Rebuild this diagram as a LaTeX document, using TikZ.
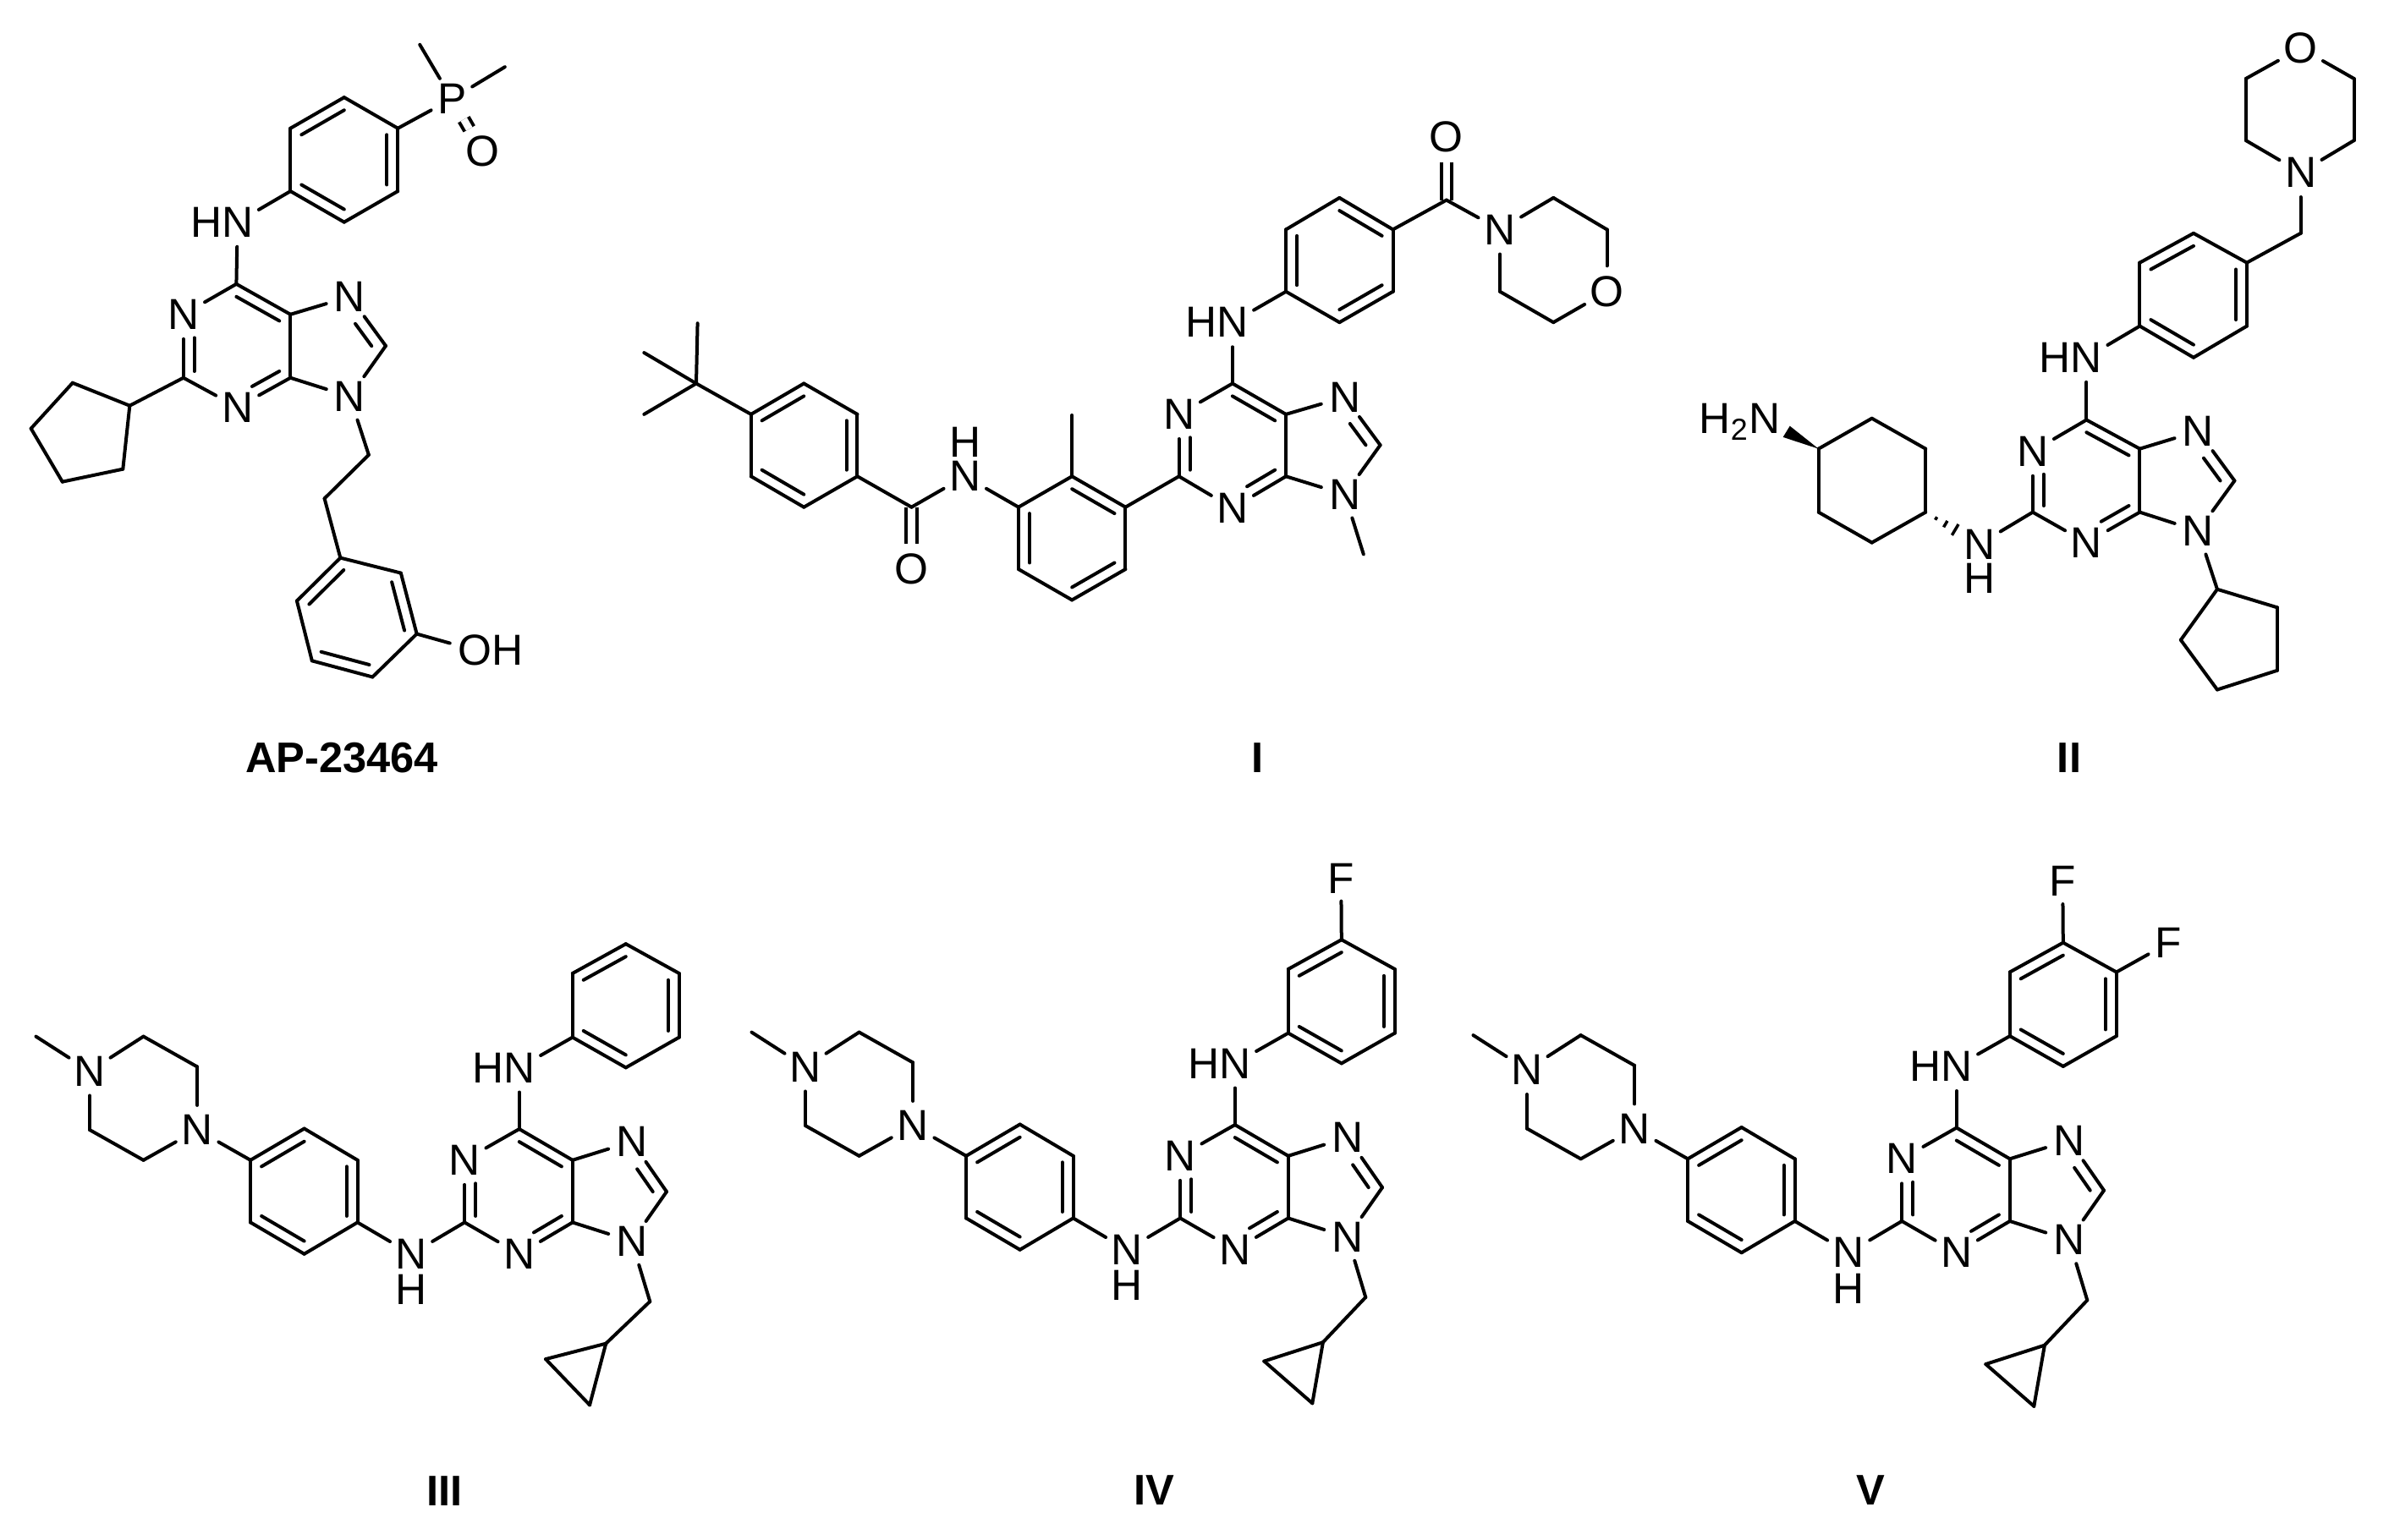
\documentclass[tikz,border=0pt]{standalone}
\usepackage{fontspec}
\setmainfont{Liberation Sans}
\usetikzlibrary{calc}
\tikzset{
  bond/.style={line width=0.04cm,line cap=round,black},
  dbond/.style={line width=0.04cm,line cap=butt,double=white,double distance=0.085cm,black},
  atom/.style={circle,inner sep=0.02cm,font=\fontsize{14.6pt}{16pt}\selectfont,text=black},
  plainatom/.style={inner sep=0pt,font=\fontsize{14.6pt}{16pt}\selectfont,text=black},
  cmpd/.style={inner sep=0pt,font=\fontsize{14.4pt}{16pt}\selectfont\bfseries,text=black},
  Ntrim/.style={shorten <=0.2cm}
}
\newcommand\cc[2]{\coordinate (#1) at (#2);}
\newcommand\at[3]{\node[atom] (#1) at (#2) {#3};}
\newcommand\bb[1]{\foreach \pa/\pb in {#1}{\draw[bond] (\pa) -- (\pb);}}
\newcommand\hexin[4][]{\draw[bond,#1] ($(#2)!0.205!(#4)$) -- ($(#3)!0.205!(#4)$);}
\newcommand\penin[4][]{\draw[bond,#1] ($(#2)!0.27!(#4)$) -- ($(#3)!0.27!(#4)$);}
% anilinopurine series III, IV, V, drawn in one local frame
\newcommand\kinasecore[3]{%
  \cc{me}{52,363}\at{na}{168,445}{N}\cc{pb}{284,363}\cc{pc}{400,435}\at{nb}{400,585}{N}\cc{pd}{284,657}\cc{pe}{168,585}%
  \cc{ga}{515,657}\cc{gb}{631,582}\cc{gc}{746,657}\cc{gd}{746,805}\cc{ge}{631,880}\cc{gf}{515,805}\cc{gm}{631,731}%
  \at{nh}{862,880}{N}\node[plainatom] (hh) at (862,965) {H};%
  \cc{cb}{977,805}\at{na1}{977,657}{N}\cc{cf}{1095,583}\cc{ce}{1210,657}\cc{cd}{1210,805}\at{na3}{1095,880}{N}\cc{pm}{1095,731}%
  \at{n7}{1338,613}{N}\cc{c8}{1413,732}\at{n9}{1338,850}{N}\cc{im}{1303,732}%
  \cc{ch}{1377,993}\cc{ca}{#1}\cc{cg}{#2}\cc{ci}{#3}%
  \at{hn}{1095,437}{\smash{\llap{H}}N}%
  \cc{ha}{1210,365}\cc{hb}{1210,213}\cc{hc}{1325,143}\cc{hd}{1440,213}\cc{he}{1440,365}\cc{hf}{1325,437}\cc{hm}{1325,290}%
  \bb{me/na,na/pb,pb/pc,pc/nb,nb/pd,pd/pe,pe/na,nb/ga,ga/gb,gb/gc,gc/gd,gd/ge,ge/gf,gf/ga,gd/nh,nh/cb,cb/na1,na1/cf,cf/ce,ce/cd,cd/na3,na3/cb,ce/n7,n7/c8,c8/n9,n9/cd,n9/ch,ch/ca,ca/cg,cg/ci,ci/ca,cf/hn,hn/ha,ha/hb,hb/hc,hc/hd,hd/he,he/hf,hf/ha}%
  \hexin{ga}{gb}{gm}\hexin{gc}{gd}{gm}\hexin{ge}{gf}{gm}%
  \hexin[Ntrim]{na1}{cb}{pm}\hexin{cf}{ce}{pm}\hexin[Ntrim]{na3}{cd}{pm}\penin[Ntrim]{n7}{c8}{im}%
  \hexin{hb}{hc}{hm}\hexin{hd}{he}{hm}\hexin{hf}{ha}{hm}%
}
\begin{document}
\begin{tikzpicture}
\useasboundingbox (0cm,-18.2cm) rectangle (28.24cm,0cm);
% AP-23464
\begin{scope}[shift={(0cm,0cm)},x=0.004464cm,y=-0.005995cm,name prefix=ap-]
  \cc{me1}{1110,88}\cc{me2}{1335,132}\at{p}{1195,195}{P}\at{o}{1275,298}{O}
  \cc{a1}{1052,253}\cc{a2}{910,192}\cc{a3}{768,253}\cc{a4}{768,377}\cc{a5}{910,438}\cc{a6}{1052,377}\cc{am}{910,315}
  \at{hn}{628,438}{\smash{\llap{H}}N}
  \cc{c6}{625,560}\at{n1}{485,620}{N}\cc{c2}{485,745}\at{n3}{628,803}{N}\cc{c4}{768,745}\cc{c5}{768,620}\cc{pm}{625,682}
  \at{n7}{925,585}{N}\cc{c8}{1020,682}\at{n9}{925,782}{N}\cc{im}{881,683}
  \cc{q1}{343,800}\cc{q2}{325,925}\cc{q3}{165,950}\cc{q4}{82,845}\cc{q5}{192,755}
  \cc{s1}{975,897}\cc{s2}{858,983}
  \cc{b1}{900,1100}\cc{b2}{1060,1130}\cc{b3}{1102,1250}\cc{b4}{985,1335}\cc{b5}{825,1303}\cc{b6}{785,1185}\cc{bm}{943,1217}
  \at{oh}{1255,1282}{O\smash{\rlap{H}}}
  \draw[dbond] (p) -- (o);
  \bb{me1/p,me2/p,p/a1,a1/a2,a2/a3,a3/a4,a4/a5,a5/a6,a6/a1,a4/hn,hn/c6,c6/n1,n1/c2,c2/n3,n3/c4,c4/c5,c5/c6,c5/n7,n7/c8,c8/n9,n9/c4,c2/q1,q1/q2,q2/q3,q3/q4,q4/q5,q5/q1,n9/s1,s1/s2,s2/b1,b1/b2,b2/b3,b3/b4,b4/b5,b5/b6,b6/b1,b3/oh}
  \hexin{a2}{a3}{am}\hexin{a1}{a6}{am}\hexin{a4}{a5}{am}
  \hexin{c6}{c5}{pm}\hexin[Ntrim]{n1}{c2}{pm}\hexin[Ntrim]{n3}{c4}{pm}\penin[Ntrim]{n7}{c8}{im}
  \hexin{b2}{b3}{bm}\hexin{b4}{b5}{bm}\hexin{b6}{b1}{bm}
\end{scope}
\node[cmpd] (lap) at (4.04cm,-8.96cm) {AP-23464};
% I
\begin{scope}[shift={(7.4cm,-1cm)},x=0.007908cm,y=-0.005357cm,name prefix=one-]
  \cc{t1}{107,527}\cc{t2}{27,592}\cc{t3}{27,728}\cc{t0}{105,660}
  \cc{c1}{187,728}\cc{c2}{266,660}\cc{c3}{346,728}\cc{c4}{346,865}\cc{c5}{266,933}\cc{c6}{187,865}\cc{cm}{266,796}
  \cc{am}{427,933}\at{ao}{427,1070}{O}\at{an}{507,865}{N}\node[plainatom] (anh) at (507,790) {H};
  \cc{d1}{587,933}\cc{d2}{667,865}\cc{d3}{747,933}\cc{d4}{747,1070}\cc{d5}{667,1138}\cc{d6}{587,1070}\cc{dm}{667,1001}\cc{dme}{667,730}
  \cc{p2}{827,865}\at{p1}{827,728}{N}\cc{p6}{907,660}\cc{p5}{987,728}\cc{p4}{987,865}\at{p3}{907,935}{N}\cc{pm}{907,796}
  \at{n7}{1075,690}{N}\cc{c8}{1128,796}\at{n9}{1075,905}{N}\cc{nme}{1103,1037}\cc{im}{1048,796}
  \at{hn}{907,525}{\smash{\llap{H}}N}
  \cc{e1}{987,457}\cc{e2}{987,320}\cc{e3}{1067,250}\cc{e4}{1147,320}\cc{e5}{1147,457}\cc{e6}{1067,525}\cc{em}{1067,388}
  \cc{k}{1227,255}\at{ko}{1227,115}{O}\at{m1}{1307,320}{N}\cc{m2}{1387,250}\cc{m3}{1467,320}\at{m4}{1467,457}{O}\cc{m5}{1387,525}\cc{m6}{1307,457}
  \draw[dbond] (am) -- (ao);
  \draw[dbond] (k) -- (ko);
  \bb{t1/t0,t2/t0,t3/t0,t0/c1,c1/c2,c2/c3,c3/c4,c4/c5,c5/c6,c6/c1,c4/am,am/an,an/d1,d1/d2,d2/d3,d3/d4,d4/d5,d5/d6,d6/d1,d2/dme,d3/p2,p2/p1,p1/p6,p6/p5,p5/p4,p4/p3,p3/p2,p5/n7,n7/c8,c8/n9,n9/p4,n9/nme,p6/hn,hn/e1,e1/e2,e2/e3,e3/e4,e4/e5,e5/e6,e6/e1,e4/k,k/m1,m1/m2,m2/m3,m3/m4,m4/m5,m5/m6,m6/m1}
  \hexin{c1}{c2}{cm}\hexin{c3}{c4}{cm}\hexin{c5}{c6}{cm}
  \hexin{d2}{d3}{dm}\hexin{d4}{d5}{dm}\hexin{d6}{d1}{dm}
  \hexin[Ntrim]{p1}{p2}{pm}\hexin{p6}{p5}{pm}\hexin[Ntrim]{p3}{p4}{pm}\penin[Ntrim]{n7}{c8}{im}
  \hexin{e3}{e4}{em}\hexin{e1}{e2}{em}\hexin{e5}{e6}{em}
\end{scope}
\node[cmpd] (lone) at (14.87cm,-8.965cm) {I};
% II
\begin{scope}[shift={(19.8cm,0cm)},x=0.005382cm,y=-0.005995cm,name prefix=two-]
  \at{mo}{1373,95}{O}\cc{ma}{1490,155}\cc{mb}{1490,277}\at{mn}{1373,340}{N}\cc{mc}{1253,277}\cc{md}{1253,155}
  \cc{ch}{1373,460}
  \cc{f1}{1255,518}\cc{f2}{1138,460}\cc{f3}{1020,518}\cc{f4}{1020,643}\cc{f5}{1138,705}\cc{f6}{1255,643}\cc{fm}{1138,582}
  \at{hn}{903,705}{\smash{\llap{H}}N}
  \cc{c6}{903,828}\at{n1}{785,890}{N}\cc{c2}{785,1010}\at{n3}{903,1070}{N}\cc{c4}{1020,1010}\cc{c5}{1020,885}\cc{pm}{903,948}
  \at{n7}{1148,850}{N}\cc{c8}{1228,948}\at{n9}{1148,1047}{N}\cc{im}{1112,948}
  \cc{q1}{1190,1162}\cc{q2}{1322,1198}\cc{q3}{1322,1322}\cc{q4}{1190,1360}\cc{q5}{1110,1262}
  \at{nh}{668,1073}{N}\node[plainatom] (hh) at (668,1140) {H};
  \cc{y1}{315,885}\cc{y2}{432,825}\cc{y3}{550,885}\cc{y4}{550,1010}\cc{y5}{432,1070}\cc{y6}{315,1010}
  \at{nt}{197,825}{\smash{\llap{H\textsubscript{2}}}N}
  \cc{wa}{252,840}\cc{wb}{237,862}
  \bb{mo/ma,ma/mb,mb/mn,mn/mc,mc/md,md/mo,mn/ch,ch/f1,f1/f2,f2/f3,f3/f4,f4/f5,f5/f6,f6/f1,f4/hn,hn/c6,c6/n1,n1/c2,c2/n3,n3/c4,c4/c5,c5/c6,c5/n7,n7/c8,c8/n9,n9/c4,n9/q1,q1/q2,q2/q3,q3/q4,q4/q5,q5/q1,c2/nh,y1/y2,y2/y3,y3/y4,y4/y5,y5/y6,y6/y1}
  \hexin{f2}{f3}{fm}\hexin{f1}{f6}{fm}\hexin{f4}{f5}{fm}
  \hexin{c6}{c5}{pm}\hexin[Ntrim]{n1}{c2}{pm}\hexin[Ntrim]{n3}{c4}{pm}\penin[Ntrim]{n7}{c8}{im}
  \fill[black] (y1) -- (wa) -- (wb) -- cycle;
  \foreach \t/\w in {0.195/0.02cm,0.37/0.043cm,0.55/0.075cm}{
    \draw[line width=0.035cm,black] ($(y4)!\t!(nh)!\w!90:(nh)$) -- ($(y4)!\t!(nh)!\w!-90:(nh)$);}
\end{scope}
\node[cmpd] (ltwo) at (24.46cm,-8.96cm) {II};
% III
\begin{scope}[shift={(0.14cm,-10.45cm)},x=0.005485cm,y=-0.004975cm,name prefix=three-]
  \kinasecore{1282,1093}{1152,1130}{1247,1239}
\end{scope}
\node[cmpd] (lthree) at (5.255cm,-17.63cm) {III};
% IV
\begin{scope}[shift={(8.6cm,-10.4cm)},x=0.005485cm,y=-0.004975cm,name prefix=four-]
  \kinasecore{1285,1100}{1158,1145}{1262,1245}
  \at{f}{1324,-3}{F}
  \bb{hc/f}
\end{scope}
\node[cmpd] (lfour) at (13.647cm,-17.62cm) {IV};
% V
\begin{scope}[shift={(17.13cm,-10.435cm)},x=0.005485cm,y=-0.004975cm,name prefix=five-]
  \kinasecore{1285,1100}{1158,1145}{1262,1245}
  \at{f}{1324,-3}{F}
  \at{g}{1552,144}{F}
  \bb{hc/f,hd/g}
\end{scope}
\node[cmpd] (lfive) at (22.11cm,-17.62cm) {V};
\end{tikzpicture}
\end{document}
